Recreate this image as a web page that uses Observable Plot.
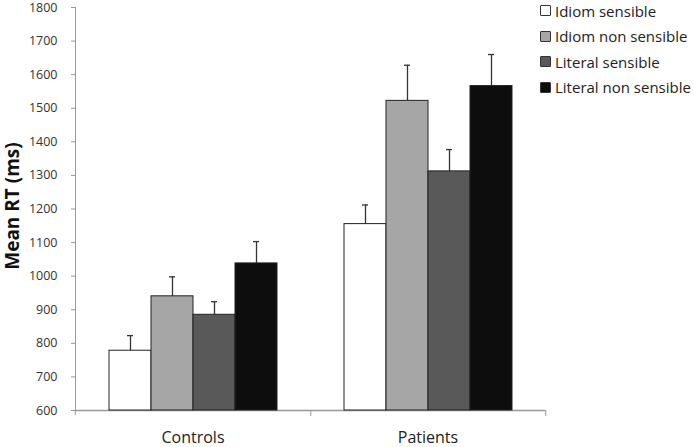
<!DOCTYPE html>
<html>
<head>
<meta charset="utf-8">
<script src="https://cdn.jsdelivr.net/npm/d3@7"></script>
<script src="https://cdn.jsdelivr.net/npm/@observablehq/plot@0.6"></script>
<style>
  html, body { margin: 0; padding: 0; background: #fff; }
  #wrap { position: relative; width: 694px; height: 447px; font-family: "Open Sans", sans-serif; }
  #legend { position: absolute; left: 540px; top: -2px; font-size: 15px; color: #222; }
  #legend .item { display: flex; align-items: center; height: 25.5px; }
  #legend .sw { width: 11px; height: 11px; border: 1px solid #333; margin-right: 4px; box-sizing: border-box; border-radius: 1px; }
  #ylabel { position: absolute; left: 12px; top: 206px; transform: translate(-50%, -50%) rotate(-90deg);
            font-weight: bold; font-size: 19px; color: #111; white-space: nowrap; }
</style>
</head>
<body>
<div id="wrap"></div>
<script>
const groups = ["Controls", "Patients"];
const conditions = ["Idiom sensible", "Idiom non sensible", "Literal sensible", "Literal non sensible"];
const colors = ["#ffffff", "#a6a6a6", "#595959", "#0d0d0d"];
const controlsMeans = [778, 940, 885, 1038];
const controlsErr = [45, 58, 39, 65];
const patientsMeans = [1155, 1522, 1312, 1566];
const patientsErr = [57, 106, 65, 94];
const yTicks = [600, 700, 800, 900, 1000, 1100, 1200, 1300, 1400, 1500, 1600, 1700, 1800];

const data = [];
conditions.forEach((c, i) => {
  data.push({group: groups[0], cond: c, mean: controlsMeans[i], err: controlsErr[i]});
  data.push({group: groups[1], cond: c, mean: patientsMeans[i], err: patientsErr[i]});
});

const W = 694, H = 447, mL = 74, mR = 149, mT = 7, mB = 37;
const half = (W - mL - mR) / groups.length / 2;

const chart = Plot.plot({
  width: W, height: H,
  marginLeft: mL, marginRight: mR, marginTop: mT, marginBottom: mB,
  style: {fontFamily: "Open Sans, sans-serif", fontSize: "12px", color: "#333", background: "#fff"},
  fx: {domain: groups, padding: 0, axis: null},
  x: {domain: conditions, paddingInner: 0, paddingOuter: 0.736, axis: null},
  y: {domain: [600, 1800], axis: null},
  color: {domain: conditions, range: colors},
  marks: [
    Plot.axisY({ticks: yTicks, tickFormat: d => String(d), tickSize: 4, tickPadding: 14, stroke: "#999", fill: "#333", fontSize: 12.5, label: null}),
    Plot.frame({anchor: "left", facetAnchor: "left", stroke: "#999"}),
    Plot.ruleY([600], {stroke: "#999", strokeWidth: 1.5}),
    Plot.axisFx({anchor: "bottom", tickSize: 0, tickPadding: 21, fontSize: 16, fill: "#222", label: null}),
    Plot.axisFx({anchor: "bottom", tickSize: 6, text: null, dx: half, stroke: "#999", label: null}),
    Plot.axisFx({anchor: "bottom", ticks: [groups[0]], tickSize: 5, text: null, dx: -half, stroke: "#999", label: null}),
    Plot.ruleX(data, {fx: "group", x: "cond", y1: "mean", y2: d => d.mean + d.err, stroke: "#333", strokeWidth: 1.3}),
    Plot.tickY(data, {fx: "group", x: "cond", y: d => d.mean + d.err, stroke: "#333", strokeWidth: 1.3, insetLeft: 18, insetRight: 18}),
    Plot.barY(data, {fx: "group", x: "cond", y1: 600, y2: "mean", fill: "cond", stroke: "#222", strokeWidth: 1})
  ]
});

const wrap = document.getElementById("wrap");
wrap.appendChild(chart);

const yl = document.createElement("div");
yl.id = "ylabel";
yl.textContent = "Mean RT (ms)";
wrap.appendChild(yl);

const legend = document.createElement("div");
legend.id = "legend";
conditions.forEach((c, i) => {
  const item = document.createElement("div");
  item.className = "item";
  const sw = document.createElement("span");
  sw.className = "sw";
  sw.style.background = chart.scale("color").apply(c);
  const t = document.createElement("span");
  t.textContent = c;
  item.appendChild(sw);
  item.appendChild(t);
  legend.appendChild(item);
});
wrap.appendChild(legend);
</script>
</body>
</html>
